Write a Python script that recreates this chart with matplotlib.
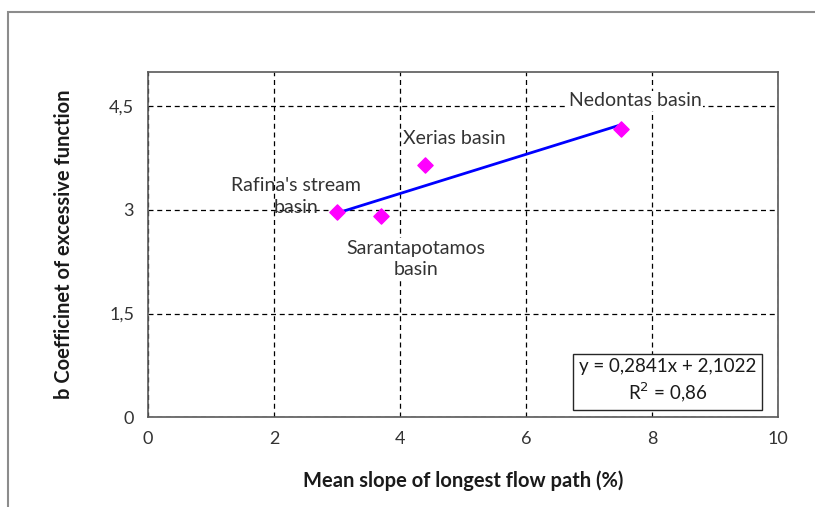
import matplotlib.pyplot as plt
from matplotlib.patches import Rectangle
import numpy as np

plt.rcParams['font.family'] = ['Lato', 'DejaVu Sans']

# basins
names = ["Rafina's stream\nbasin", "Sarantapotamos\nbasin", "Xerias basin", "Nedontas basin"]
slope = [3.0, 3.7, 4.4, 7.5]
b_coef = [2.97, 2.91, 3.65, 4.18]

# linear fit shown in the chart
a_fit = 0.2841
b_fit = 2.1022
r2 = 0.86

yticks = [0, 1.5, 3, 4.5]
ytick_labels = ['0', '1,5', '3', '4,5']
xticks = [0, 2, 4, 6, 8, 10]

fig = plt.figure(figsize=(8.15, 5.07), dpi=100)
ax = fig.add_axes([0.1816, 0.1775, 0.773, 0.6805])

# outer frame of the chart object
fig.patches.append(Rectangle((8 / 815, -0.1), 1.2, 1 - 12 / 507 + 0.1, transform=fig.transFigure,
                             fill=False, edgecolor='#8c8c8c', linewidth=1.5))

ax.set_xlim(0, 10)
ax.set_ylim(0, 5)
ax.set_xticks(xticks)
ax.set_xticklabels([str(t) for t in xticks])
ax.set_yticks(yticks)
ax.set_yticklabels(ytick_labels)
ax.grid(True, linestyle=(0, (4, 3)), color='black', linewidth=0.9)
ax.tick_params(length=0, labelsize=13, colors='#333333', pad=10)
for s in ax.spines.values():
    s.set_color('#595959')
    s.set_linewidth(1.2)

xf = np.array([min(slope), max(slope)])
ax.plot(xf, a_fit * xf + b_fit, color='#0000ff', linewidth=2, zorder=3)
ax.scatter(slope, b_coef, marker='D', s=60, color='#ff00ff', zorder=4)

lab_pos = [(2.35, 3.19), (4.25, 2.29), (4.86, 4.04), (7.73, 4.58)]
bgs = [False, True, False, True]
for n, p, bg in zip(names, lab_pos, bgs):
    kw = dict(ha='center', va='center', fontsize=14, color='#333333', linespacing=1.35, zorder=5)
    if bg:
        kw['bbox'] = dict(facecolor='white', edgecolor='none', pad=1)
    ax.text(p[0], p[1], n, **kw)

ax.text(8.25, 0.52, 'y = 0,2841x + 2,1022\nR$^2$ = 0,86', ha='center', va='center', fontsize=13.5,
        color='#1a1a1a', linespacing=1.3, zorder=5,
        bbox=dict(facecolor='white', edgecolor='#262626', linewidth=1, boxstyle='square,pad=0.3'))

ax.set_xlabel('Mean slope of longest flow path (%)', fontsize=14.5, fontweight='bold', color='#1a1a1a', labelpad=17)
ax.set_ylabel('b Coefficinet of excessive function', fontsize=14.5, fontweight='bold', color='#1a1a1a', labelpad=25)

fig.savefig('out.png', dpi=100)
